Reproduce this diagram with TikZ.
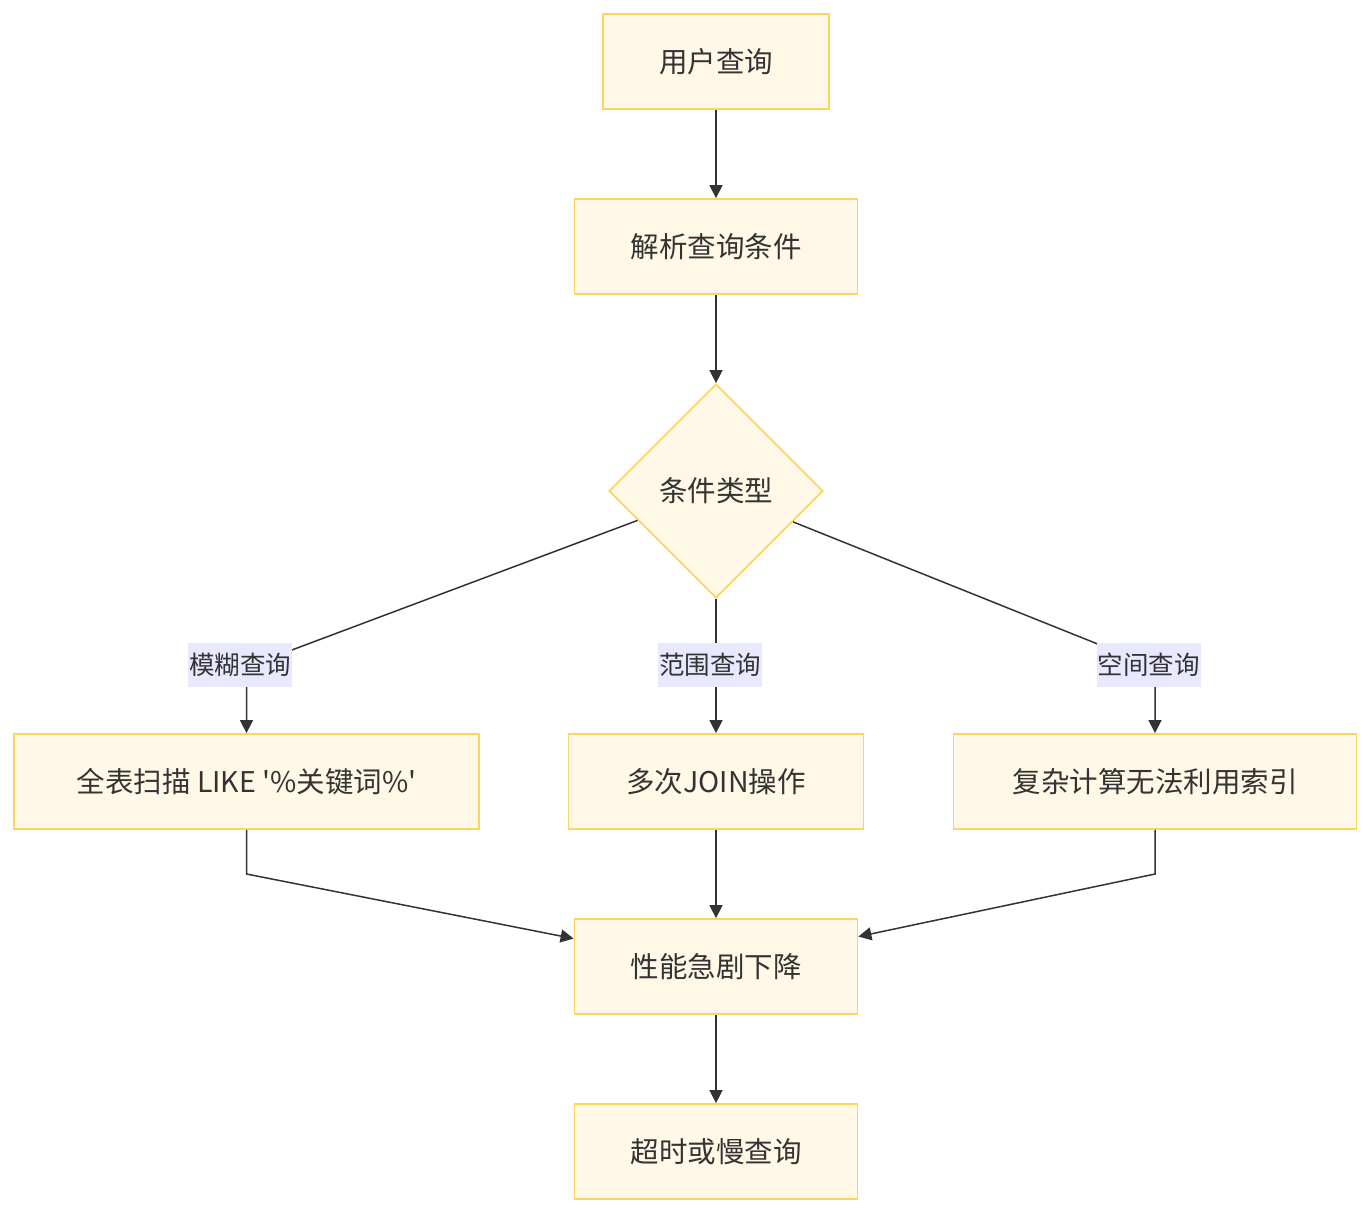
\documentclass[tikz,border=0pt]{standalone}
\usepackage{fontspec}
\setmainfont{Noto Sans CJK SC}
\usetikzlibrary{arrows.meta, positioning, shapes.geometric}

\definecolor{boxfill}{HTML}{FFF8E6}
\definecolor{boxline}{HTML}{FCD462}
\definecolor{tagfill}{HTML}{E8E8FF}
\definecolor{ink}{HTML}{333333}

\begin{document}
\begin{tikzpicture}[
		x=1pt, y=-1pt,
		node distance=88.2pt,
		line width=1.5pt,
		>={Triangle[length=13pt, width=13pt]},
		box/.style={rectangle, draw=boxline, fill=boxfill, line width=1.8pt, minimum height=95pt, inner xsep=56pt, text=ink, font=\fontsize{28.5}{34}\selectfont},
		decision/.style={diamond, aspect=1, draw=boxline, fill=boxfill, line width=1.8pt, minimum size=214pt, inner sep=0pt, text=ink, font=\fontsize{28.5}{34}\selectfont},
		tag/.style={rectangle, fill=tagfill, inner xsep=1pt, inner ysep=10pt, text=ink, font=\fontsize{25.5}{30}\selectfont},
		link/.style={draw=ink, ->}
		]
		
		\useasboundingbox (0,0) rectangle (1372,1214);
		
		% Top chain
		\node[box] (query) at (716,61.5) {用户查询};
		\node[box, below=of query] (parse) {解析查询条件};
		\node[decision] (type) at (716,491) {条件类型};
		
		% Three kinds of condition
		\node[box, minimum width=465pt] (fuzzy) at (246.5,781.5) {全表扫描 LIKE \textquotesingle\%关键词\%\textquotesingle};
		\node[box, minimum width=295pt] (range) at (716,781.5) {多次JOIN操作};
		\node[box, minimum width=403pt] (spatial) at (1155,781.5) {复杂计算无法利用索引};
		
		% Result chain
		\node[box, below=of range] (slow) {性能急剧下降};
		\node[box, below=of slow] (timeout) {超时或慢查询};
		
		% Bend points
		\coordinate (fuzzybend) at (246.5,667);
		\coordinate (spatialbend) at (1155,667);
		\coordinate (fuzzyjoin) at (246.5,874);
		\coordinate (spatialjoin) at (1155,874);
		
		% Arrows
		\draw[link] (query) -- (parse);
		\draw[link] (parse) -- (type);
		\draw[link] (type) -- (fuzzybend) -- (fuzzy);
		\draw[link] (type) -- (range);
		\draw[link] (type) -- (spatialbend) -- (spatial);
		\draw[link] (fuzzy) -- (fuzzyjoin) -- (slow);
		\draw[link] (range) -- (slow);
		\draw[link] (spatial) -- (spatialjoin) -- (slow);
		\draw[link] (slow) -- (timeout);
		
		% Edge labels
		\node[tag] (fuzzytag) at (240,665) {模糊查询};
		\node[tag] (rangetag) at (710,665) {范围查询};
		\node[tag] (spatialtag) at (1148.5,665) {空间查询};
		
	\end{tikzpicture}
\end{document}
